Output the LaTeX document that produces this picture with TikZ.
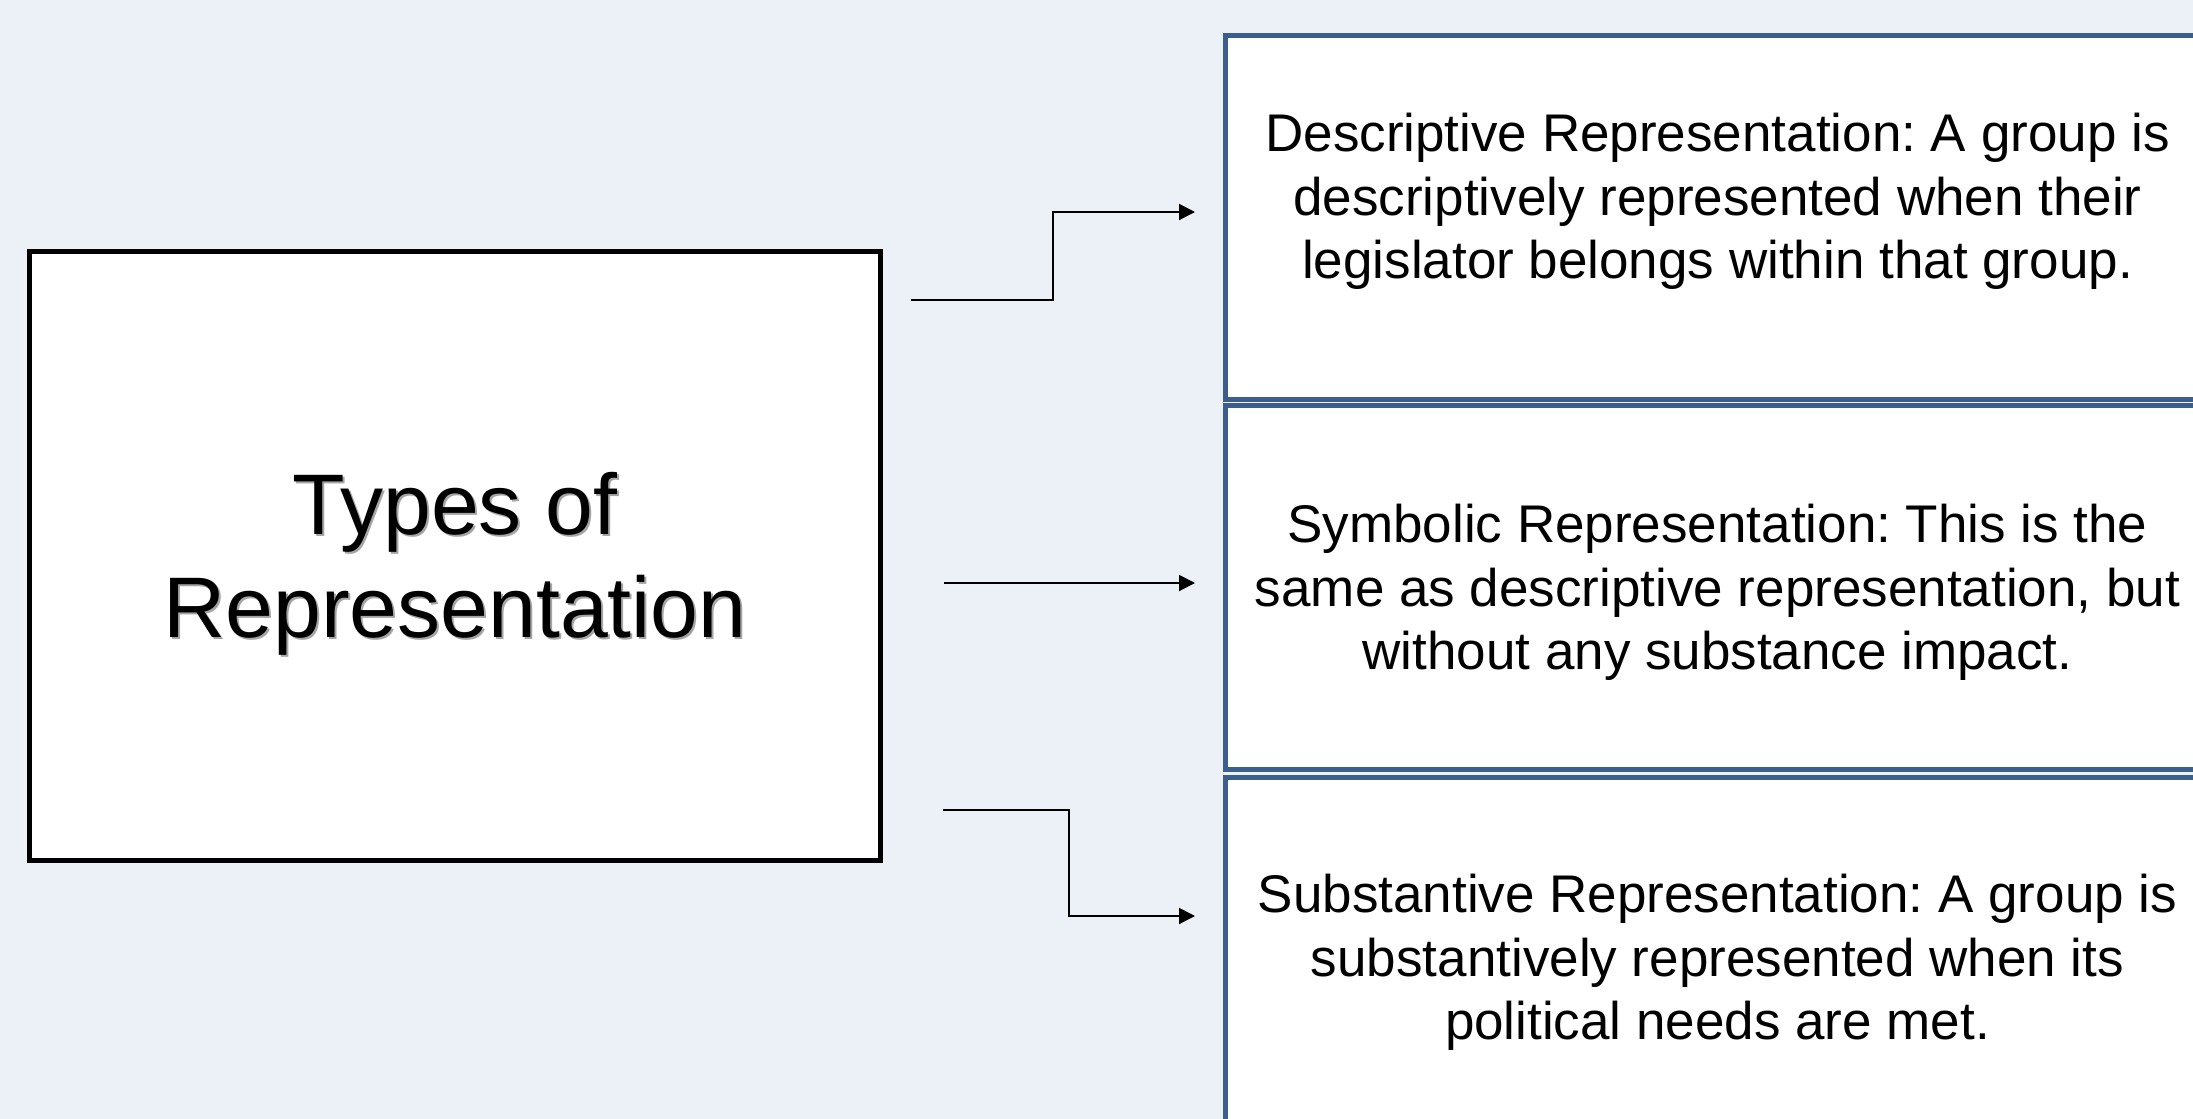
\documentclass[tikz,border=0pt]{standalone}
\usepackage{fontspec}
\setmainfont{Liberation Sans}
\usetikzlibrary{arrows.meta,calc}
\definecolor{bgc}{RGB}{236,241,248}
\definecolor{boxblue}{RGB}{59,94,140}
\definecolor{shadowgray}{RGB}{165,165,165}
\frenchspacing
\begin{document}
\begin{tikzpicture}[x=1pt,y=-1pt,
  titlebox/.style={draw=black,line width=5pt,fill=white,minimum width=851pt,minimum height=609pt,inner sep=0pt},
  titletext/.style={align=center,font=\fontsize{86}{103}\selectfont,inner sep=0pt},
  defbox/.style={draw=boxblue,line width=5pt,fill=white,minimum width=985pt,minimum height=364pt,inner sep=0pt},
  deftext/.style={align=center,font=\fontsize{53}{63.5}\selectfont,inner sep=0pt},
  conn/.style={line width=2pt,-{Triangle[length=16pt,width=16pt]}}]
\path[use as bounding box, fill=bgc] (0,0) rectangle (2193,1119);
\clip (0,0) rectangle (2193,1119);

\node[titlebox] (types) at (455,555.5) {};
\node[titletext,text=shadowgray] (typesshadow) at (457,566) {Types of\\Representation};
\node[titletext] (typestext) at (455,564) {Types of\\Representation};

\node[defbox] (desc) at (1717.5,217) {};
\node[defbox] (symb) at (1717.5,587.75) {};
\node[defbox] (subs) at (1717.5,959.5) {};

\node[deftext] (desctext) at (1717.5,201.5) {Descriptive Representation: A group is\\descriptively represented when their\\legislator belongs within that group.};
\node[deftext] (symbtext) at (1717.5,592.5) {Symbolic Representation: This is the\\same as descriptive representation, but\\without any substance impact.};
\node[deftext] (substext) at (1717.5,962.5) {Substantive Representation: A group is\\substantively represented when its\\political needs are met.};

\coordinate (a1s) at (911,300);
\coordinate (a1e) at (1195,212);
\coordinate (a2s) at (944,583);
\coordinate (a2e) at (1195,583);
\coordinate (a3s) at (943,810);
\coordinate (a3e) at (1195,916);

\draw[conn] (a1s) -| ($(a1s)!.5!(a1e)$) |- (a1e);
\draw[conn] (a2s) -- (a2e);
\draw[conn] (a3s) -| ($(a3s)!.5!(a3e)$) |- (a3e);
\end{tikzpicture}
\end{document}
